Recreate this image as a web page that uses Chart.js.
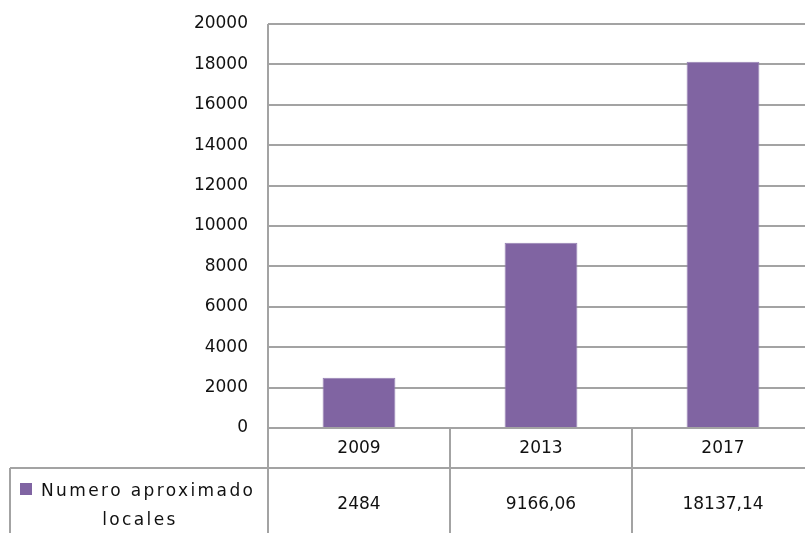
<!DOCTYPE html>
<html>
<head>
<meta charset="utf-8">
<script src="https://cdn.jsdelivr.net/npm/chart.js@4"></script>
<style>
  html, body { margin: 0; padding: 0; background: #fff; overflow: hidden; }
  #wrap { width: 805px; height: 533px; overflow: hidden; position: relative; }
  #chart { display: block; }
</style>
</head>
<body>
<div id="wrap">
  <div style="width:820px;height:533px;">
    <canvas id="chart" width="820" height="533"></canvas>
  </div>
</div>
<script>
const years = ["2009", "2013", "2017"];
const localesValues = [2484, 9166.06, 18137.14];
const tableLabels = ["2484", "9166,06", "18137,14"];
const seriesName = ["Numero aproximado", "locales"];

const BAR_COLOR = "#8064a2";
const LINE_COLOR = "#a3a3a3";
const TEXT_COLOR = "#111";
const FONT = "'DejaVu Sans', Verdana, sans-serif";

// draws the Excel-like data table under the plot
const dataTable = {
  id: "dataTable",
  afterDraw(chart) {
    const { ctx, chartArea, scales } = chart;
    const x = scales.x;
    const left = chartArea.left;
    const right = chartArea.right;
    const base = chartArea.bottom;
    const rowMid = base + 40;
    const bottom = chart.height;
    const step = x.getPixelForValue(1) - x.getPixelForValue(0);

    ctx.save();
    ctx.strokeStyle = LINE_COLOR;
    ctx.lineWidth = 2;

    ctx.beginPath();
    ctx.moveTo(left, chartArea.top);
    ctx.lineTo(left, bottom);
    ctx.moveTo(left, base);
    ctx.lineTo(right, base);
    ctx.moveTo(10, rowMid);
    ctx.lineTo(right, rowMid);
    ctx.moveTo(10, rowMid);
    ctx.lineTo(10, bottom);
    years.forEach((_, i) => {
      const bx = x.getPixelForValue(i) + step / 2;
      ctx.moveTo(bx, base);
      ctx.lineTo(bx, bottom);
    });
    ctx.stroke();

    ctx.fillStyle = TEXT_COLOR;
    ctx.font = `17px ${FONT}`;
    ctx.textAlign = "center";
    ctx.textBaseline = "middle";
    years.forEach((year, i) => {
      const cx = x.getPixelForValue(i);
      ctx.fillText(year, cx, base + 21);
      ctx.fillText(tableLabels[i], cx, rowMid + 37);
    });

    // legend key + series name
    ctx.fillStyle = BAR_COLOR;
    ctx.fillRect(20, rowMid + 15, 12, 12);
    ctx.fillStyle = TEXT_COLOR;
    ctx.letterSpacing = "2.4px";
    ctx.textAlign = "left";
    ctx.fillText(seriesName[0], 41, rowMid + 24);
    ctx.textAlign = "center";
    ctx.fillText(seriesName[1], 140, rowMid + 53);
    ctx.restore();
  }
};

new Chart(document.getElementById("chart"), {
  type: "bar",
  data: {
    labels: years,
    datasets: [{
      label: seriesName.join(" "),
      data: localesValues,
      backgroundColor: BAR_COLOR,
      borderColor: "#9580b3",
      borderWidth: 1,
      categoryPercentage: 1,
      barPercentage: 0.4
    }]
  },
  options: {
    responsive: false,
    animation: false,
    layout: { padding: { top: 24, right: 6, bottom: 105, left: 0 } },
    plugins: {
      legend: { display: false },
      tooltip: { enabled: false }
    },
    scales: {
      x: {
        display: false
      },
      y: {
        min: 0,
        max: 20000,
        afterFit(scale) {
          scale.width = 268;
          scale.paddingTop = 0;
          scale.paddingBottom = 0;
        },
        border: { display: false },
        grid: { color: LINE_COLOR, lineWidth: 2, drawTicks: false },
        ticks: {
          stepSize: 2000,
          padding: 20,
          color: TEXT_COLOR,
          font: { family: FONT, size: 17 },
          callback: (value) => String(value)
        }
      }
    }
  },
  plugins: [dataTable]
});
</script>
</body>
</html>
